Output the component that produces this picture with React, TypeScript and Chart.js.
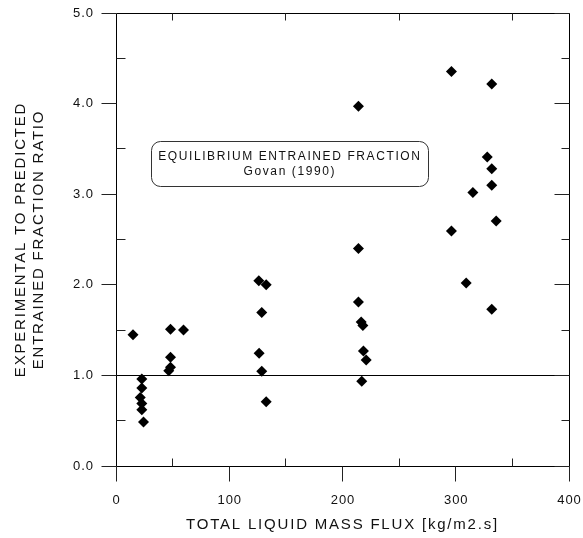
import React, { useEffect, useRef } from "react";
import { Chart, registerables } from "chart.js";

Chart.register(...registerables);

// ---- data ----
const fluxValues = [
  15, 22.8, 22.8, 21.4, 22.8, 22.8, 24.3,
  48.1, 59.6, 48.1, 48.1, 46.6,
  126.1, 132.6, 128.7, 126.4, 128.7, 132.6,
  214.1, 214.1, 214.1, 216.5, 218, 218.5, 220.9, 217,
  296.2, 331.8, 327.8, 331.8, 331.8, 315.1, 335.7, 296.2, 309.2, 331.8,
];
const ratioValues = [
  1.45, 0.96, 0.86, 0.755, 0.69, 0.62, 0.485,
  1.51, 1.5, 1.2, 1.09, 1.05,
  2.045, 2.0, 1.695, 1.245, 1.045, 0.71,
  3.97, 2.4, 1.81, 1.59, 1.55, 1.27, 1.17, 0.935,
  4.355, 4.215, 3.41, 3.28, 3.1, 3.02, 2.705, 2.595, 2.02, 1.73,
];

const xTickValues = [0, 100, 200, 300, 400];
const xTickLabels = ["0", "100", "200", "300", "400"];
const yTickValues = [0, 1, 2, 3, 4, 5];
const yTickLabels = ["0.0", "1.0", "2.0", "3.0", "4.0", "5.0"];
const xMinorStep = 50;
const yMinorStep = 0.5;
const referenceValue = 1.0;

const xTitle = "TOTAL LIQUID MASS FLUX [kg/m2.s]";
const yTitleLines = ["EXPERIMENTAL TO PREDICTED", "ENTRAINED FRACTION RATIO"];
const boxLines = ["EQUILIBRIUM ENTRAINED FRACTION", "Govan (1990)"];
// annotation box extent in data units
const boxXRange = [31, 276];
const boxYRange = [3.085, 3.58];
const boxLineY = [3.415, 3.245];

const FONT = '"Liberation Sans", Arial, Helvetica, sans-serif';
const INK = "#111";

const crisp = (v: number) => Math.floor(v) + 0.5;

const framePlugin = {
  id: "frame",
  beforeDatasetsDraw(chart: any) {
    const { ctx, chartArea, scales } = chart;
    const xs = scales.x;
    const ys = scales.y;
    const L = crisp(chartArea.left);
    const R = crisp(chartArea.right);
    const T = crisp(chartArea.top);
    const B = crisp(chartArea.bottom);
    ctx.save();
    ctx.strokeStyle = "#000";
    ctx.lineWidth = 1;
    ctx.beginPath();
    ctx.moveTo(L, T);
    ctx.lineTo(R, T);
    ctx.lineTo(R, B);
    ctx.lineTo(L, B);
    ctx.closePath();
    // reference line
    const ry = crisp(ys.getPixelForValue(referenceValue));
    ctx.moveTo(L, ry);
    ctx.lineTo(R, ry);
    ctx.stroke();

    ctx.strokeStyle = "#222";
    ctx.beginPath();
    // x ticks
    for (let v = xs.min; v <= xs.max + 1e-9; v += xMinorStep) {
      const px = crisp(xs.getPixelForValue(v));
      const major = xTickValues.some((t) => Math.abs(t - v) < 1e-6);
      if (major) {
        ctx.moveTo(px, B);
        ctx.lineTo(px, B + 15);
      } else {
        ctx.moveTo(px, B);
        ctx.lineTo(px, B - 8);
        ctx.moveTo(px, T);
        ctx.lineTo(px, T + 7);
      }
    }
    // y ticks
    for (let v = ys.min; v <= ys.max + 1e-9; v += yMinorStep) {
      const py = crisp(ys.getPixelForValue(v));
      const major = yTickValues.some((t) => Math.abs(t - v) < 1e-6);
      if (major) {
        ctx.moveTo(L - 15, py);
        ctx.lineTo(L, py);
        ctx.moveTo(R, py);
        ctx.lineTo(R - 15, py);
      } else {
        ctx.moveTo(L, py);
        ctx.lineTo(L + 9, py);
        ctx.moveTo(R, py);
        ctx.lineTo(R - 8, py);
      }
    }
    ctx.stroke();

    // annotation box
    const bx0 = crisp(xs.getPixelForValue(boxXRange[0]));
    const bx1 = crisp(xs.getPixelForValue(boxXRange[1]));
    const by0 = crisp(ys.getPixelForValue(boxYRange[1]));
    const by1 = crisp(ys.getPixelForValue(boxYRange[0]));
    ctx.strokeStyle = "#333";
    ctx.beginPath();
    ctx.roundRect(bx0, by0, bx1 - bx0, by1 - by0, 9);
    ctx.fillStyle = "#fff";
    ctx.fill();
    ctx.stroke();
    ctx.restore();
  },
  afterDraw(chart: any) {
    const { ctx, chartArea, scales } = chart;
    const xs = scales.x;
    const ys = scales.y;
    ctx.save();
    ctx.fillStyle = INK;
    (ctx as any).letterSpacing = "1px";
    ctx.font = `13px ${FONT}`;
    // x tick labels
    ctx.textAlign = "center";
    ctx.textBaseline = "middle";
    xTickValues.forEach((v, i) => {
      ctx.fillText(xTickLabels[i], xs.getPixelForValue(v) + 0.5, 500);
    });
    // y tick labels
    ctx.textAlign = "right";
    yTickValues.forEach((v, i) => {
      ctx.fillText(yTickLabels[i], chartArea.left - 22, ys.getPixelForValue(v));
    });
    // box text
    ctx.font = `12px ${FONT}`;
    (ctx as any).letterSpacing = "1.6px";
    ctx.textAlign = "center";
    const bcx = (xs.getPixelForValue(boxXRange[0]) + xs.getPixelForValue(boxXRange[1])) / 2;
    boxLines.forEach((t, i) => {
      ctx.fillText(t, bcx, ys.getPixelForValue(boxLineY[i]));
    });
    // axis titles
    ctx.font = `15px ${FONT}`;
    (ctx as any).letterSpacing = "1.8px";
    const xcx = (chartArea.left + chartArea.right) / 2;
    ctx.fillText(xTitle, xcx, 525);
    const ycy = (chartArea.top + chartArea.bottom) / 2;
    ctx.save();
    ctx.translate(21, ycy);
    ctx.rotate(-Math.PI / 2);
    ctx.fillText(yTitleLines[0], 0, 0);
    ctx.restore();
    ctx.save();
    ctx.translate(39, ycy);
    ctx.rotate(-Math.PI / 2);
    ctx.fillText(yTitleLines[1], 0, 0);
    ctx.restore();
    ctx.restore();
  },
};

export default function App() {
  const canvasRef = useRef<HTMLCanvasElement | null>(null);

  useEffect(() => {
    document.body.style.margin = "0";
    const canvas = canvasRef.current;
    if (!canvas) return;
    const points = fluxValues.map((x, i) => ({ x, y: ratioValues[i] }));
    const chart = new Chart(canvas, {
      type: "scatter",
      data: {
        datasets: [
          {
            data: points,
            pointStyle: "rectRot",
            pointRadius: 5.5,
            pointBackgroundColor: "#000",
            pointBorderColor: "#000",
            pointBorderWidth: 0,
          },
        ],
      },
      options: {
        animation: false,
        responsive: false,
        maintainAspectRatio: false,
        devicePixelRatio: 1,
        layout: { padding: { left: 116, right: 14, top: 13, bottom: 72 } },
        plugins: { legend: { display: false }, tooltip: { enabled: false } },
        scales: {
          x: { type: "linear", min: 0, max: 400, display: false },
          y: { type: "linear", min: 0, max: 5, display: false },
        },
      },
      plugins: [framePlugin],
    });
    return () => chart.destroy();
  }, []);

  return (
    <div style={{ position: "fixed", left: 0, top: 0, width: 583, height: 538, background: "#fff" }}>
      <canvas ref={canvasRef} width={583} height={538} style={{ width: 583, height: 538 }} />
    </div>
  );
}
